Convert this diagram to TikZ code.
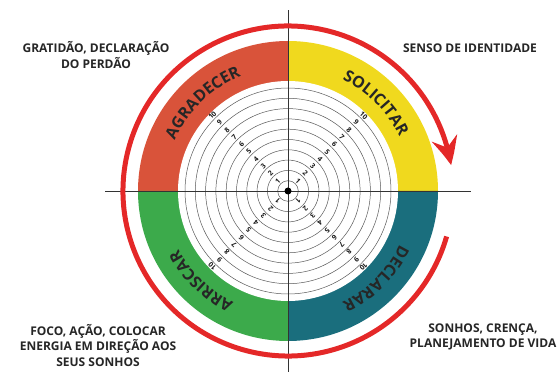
\documentclass[tikz,border=0pt]{standalone}
\usepackage{fontspec}
\setmainfont{Open Sans}
\usetikzlibrary{arrows.meta,bending,decorations.text}
\definecolor{cOrange}{HTML}{D9533A}
\definecolor{cYellow}{HTML}{F0D91E}
\definecolor{cTeal}{HTML}{1A6E7D}
\definecolor{cGreen}{HTML}{3CAA4B}
\definecolor{cRed}{HTML}{E42828}
\begin{document}
\begin{tikzpicture}[x=1pt,y=1pt,
  lab/.style={font=\bfseries\fontsize{12}{15.5}\selectfont, align=center, inner sep=0pt, text=black!85},
  gridc/.style={draw=black!65, line width=0.5pt},
  axisline/.style={draw=black!80, line width=0.7pt},
  num/.style={font=\bfseries\fontsize{7}{7}\selectfont, inner sep=0pt, text=black!90},
  redarc/.style={draw=cRed, line width=5pt, -{Stealth[length=28pt,width=26pt,inset=10pt,bend]}},
  ringtext/.style={decorate, decoration={text along path, text align=center,
     text={|\bfseries\fontsize{16}{16}\selectfont\color{black!85}|#1}}}
]
\useasboundingbox (0,0) rectangle (557,372);
\begin{scope}[shift={(288,181)}]
  % coloured ring
  \fill[cOrange] (0,0) -- (90:150pt) arc[start angle=90,end angle=180,radius=150pt] -- cycle;
  \fill[cYellow] (0,0) -- (0:150pt) arc[start angle=0,end angle=90,radius=150pt] -- cycle;
  \fill[cTeal] (0,0) -- (-90:150pt) arc[start angle=-90,end angle=0,radius=150pt] -- cycle;
  \fill[cGreen] (0,0) -- (180:150pt) arc[start angle=180,end angle=270,radius=150pt] -- cycle;
  \fill[white] (0,0) circle[radius=110pt];
  % concentric grid
  \foreach \k in {1,...,10} \draw[gridc] (0,0) circle[radius=10.3pt*\k];
  % axes
  \draw[axisline] (-183,0) -- (183,0);
  \draw[axisline] (0,-181) -- (0,181);
  % numbers on diagonals
  \foreach \a/\nm in {45/ne,135/nw,-45/se,-135/sw}
    \foreach \k in {1,...,10}
      \node[num, rotate={\a-90}] (n\nm\k) at (\a:{10.3*\k+4}) {\k};
  % centre dot
  \fill[black] (0,0) circle[radius=3.5pt];
  % ring labels
  \path[ringtext={AGRADECER}] (164:124pt) arc[start angle=164,end angle=104,radius=124pt];
  \path[ringtext={SOLICITAR}] (75:124pt) arc[start angle=75,end angle=15,radius=124pt];
  \path[ringtext={DECLARAR}] (-15:124pt) arc[start angle=-15,end angle=-75,radius=124pt];
  \path[ringtext={ARRISCAR}] (-104:124pt) arc[start angle=-104,end angle=-164,radius=124pt];
  % red circular arrow
  \draw[redarc] (-16:165pt) arc[start angle=-16,end angle=-351,radius=165pt];
\end{scope}
% corner texts
\node[lab] (tl) at (96,317) {GRATIDÃO, DECLARAÇÃO\\DO PERDÃO};
\node[lab] (tr) at (470,324) {SENSO DE IDENTIDADE};
\node[lab] (bl) at (98,26.5) {FOCO, AÇÃO, COLOCAR\\ENERGIA EM DIREÇÃO AOS\\SEUS SONHOS};
\node[lab] (br) at (483,35) {SONHOS, CRENÇA,\\PLANEJAMENTO DE VIDA};
\end{tikzpicture}
\end{document}
